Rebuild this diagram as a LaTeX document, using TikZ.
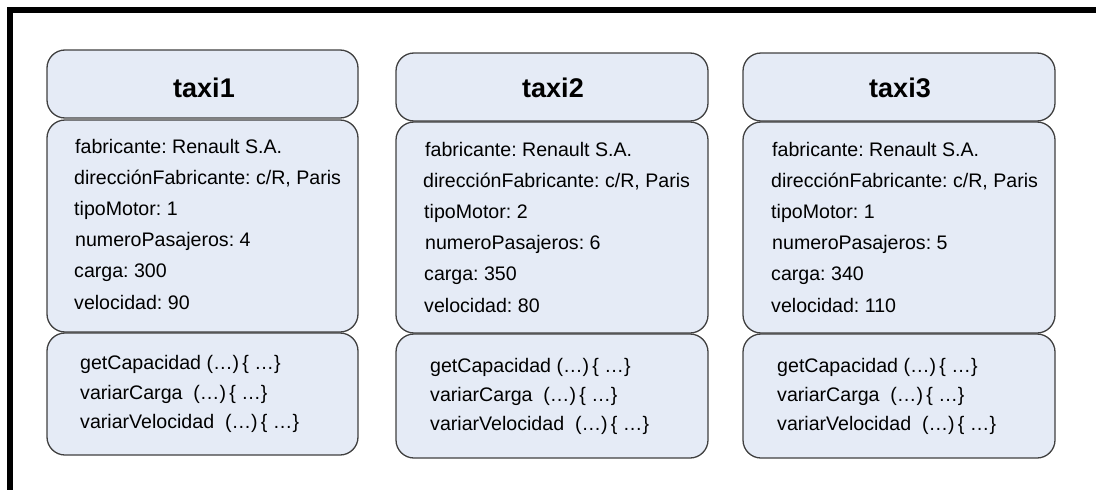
\documentclass[tikz,border=0pt]{standalone}
\usepackage{fontspec}
\setmainfont{Liberation Sans}
\frenchspacing
\definecolor{boxfill}{RGB}{229,235,246}
\definecolor{boxdraw}{RGB}{64,64,64}
\begin{document}
\begin{tikzpicture}[x=1pt,y=-1pt,
 part/.style={draw=boxdraw, line width=1.3pt, fill=boxfill, rounded corners=18pt,
   rectangle, anchor=north west, inner sep=0pt, outer sep=0pt},
 ttl/.style={anchor=base, font=\fontsize{27}{30}\selectfont\bfseries, inner sep=0pt},
 attr/.style={anchor=base west, font=\fontsize{19.6}{23}\selectfont, inner sep=0pt},
]
\useasboundingbox (0,0) rectangle (1096,490);
% frame (only its top and left sides fall inside the picture)
\fill[black] (7.3,7.3) rectangle (1096,13);
\fill[black] (7.3,7.3) rectangle (12.8,490);

% ---------- taxi1 ----------
\node[part, minimum width=311pt, minimum height=68pt]  (t1h) at (47,50)  {};
\node[part, minimum width=311pt, minimum height=212pt] (t1a) at (47,120) {};
\node[part, minimum width=311pt, minimum height=122pt] (t1m) at (47,333) {};
\node[ttl] (t1t) at (204,97) {taxi1};
\node[attr] (t1a1) at (75,153.0) {fabricante: Renault S.A.};
\node[attr] (t1a2) at (74,184.2) {direcciónFabricante: c/R, Paris};
\node[attr] (t1a3) at (74,215.4) {tipoMotor: 1};
\node[attr] (t1a4) at (75,246.6) {numeroPasajeros: 4};
\node[attr] (t1a5) at (74,277.8) {carga: 300};
\node[attr] (t1a6) at (74,309.0) {velocidad: 90};
\node[attr] (t1m1) at (80,369) {getCapacidad (…)\,\{ …\}};
\node[attr] (t1m2) at (80,399) {variarCarga\ \ (…)\,\{ …\}};
\node[attr] (t1m3) at (80,428) {variarVelocidad\ \ (…)\,\{ …\}};

% ---------- taxi2 ----------
\node[part, minimum width=312pt, minimum height=68pt]  (t2h) at (396,53)  {};
\node[part, minimum width=312pt, minimum height=211pt] (t2a) at (396,122) {};
\node[part, minimum width=312pt, minimum height=124pt] (t2m) at (396,334) {};
\node[ttl] (t2t) at (553,97) {taxi2};
\node[attr] (t2a1) at (425,156.0) {fabricante: Renault S.A.};
\node[attr] (t2a2) at (423,187.2) {direcciónFabricante: c/R, Paris};
\node[attr] (t2a3) at (424,218.4) {tipoMotor: 2};
\node[attr] (t2a4) at (425,249.6) {numeroPasajeros: 6};
\node[attr] (t2a5) at (424,280.8) {carga: 350};
\node[attr] (t2a6) at (424,312.0) {velocidad: 80};
\node[attr] (t2m1) at (430,372) {getCapacidad (…)\,\{ …\}};
\node[attr] (t2m2) at (430,401) {variarCarga\ \ (…)\,\{ …\}};
\node[attr] (t2m3) at (430,430) {variarVelocidad\ \ (…)\,\{ …\}};

% ---------- taxi3 ----------
\node[part, minimum width=312pt, minimum height=68pt]  (t3h) at (743,53)  {};
\node[part, minimum width=312pt, minimum height=211pt] (t3a) at (743,122) {};
\node[part, minimum width=312pt, minimum height=124pt] (t3m) at (743,334) {};
\node[ttl] (t3t) at (900,97) {taxi3};
\node[attr] (t3a1) at (772,156.0) {fabricante: Renault S.A.};
\node[attr] (t3a2) at (771,187.2) {direcciónFabricante: c/R, Paris};
\node[attr] (t3a3) at (771,218.4) {tipoMotor: 1};
\node[attr] (t3a4) at (772,249.6) {numeroPasajeros: 5};
\node[attr] (t3a5) at (771,280.8) {carga: 340};
\node[attr] (t3a6) at (771,312.0) {velocidad: 110};
\node[attr] (t3m1) at (777,372) {getCapacidad (…)\,\{ …\}};
\node[attr] (t3m2) at (777,401) {variarCarga\ \ (…)\,\{ …\}};
\node[attr] (t3m3) at (777,430) {variarVelocidad\ \ (…)\,\{ …\}};
\end{tikzpicture}
\end{document}
